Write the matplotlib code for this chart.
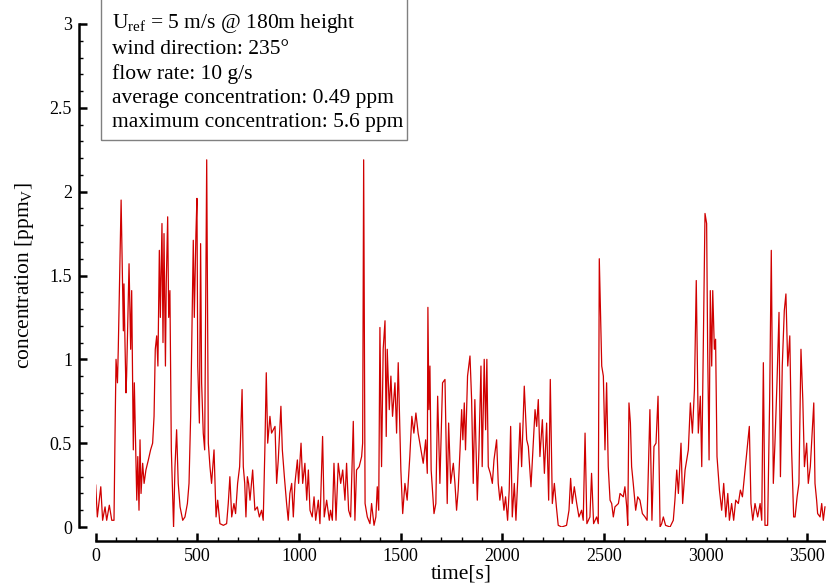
import numpy as np
import matplotlib
matplotlib.use('Agg')
import matplotlib.pyplot as plt
from matplotlib.patches import Rectangle
from matplotlib.ticker import MultipleLocator

plt.rcParams['font.family'] = ['Liberation Serif', 'DejaVu Serif']
plt.rcParams['mathtext.fontset'] = 'custom'
plt.rcParams['mathtext.rm'] = 'Liberation Serif'
plt.rcParams['mathtext.it'] = 'Liberation Serif:italic'

# time series (s, ppm)
time_s = [0, 8, 25, 34, 46, 54, 67, 79, 90, 95, 100, 107, 111, 120, 125, 131, 136, 139, 144,
          149, 152, 164, 172, 177, 185, 190, 195, 202, 207, 213, 218, 223, 231, 238, 247, 259,
          270, 280, 287, 293, 300, 306, 313, 318, 326, 331, 336, 343, 347, 354, 359, 365, 372,
          383, 390, 398, 406, 415, 428, 439, 451, 459, 467, 472, 480, 485, 493, 498, 502, 510,
          516, 521, 529, 536, 546, 554, 562, 570, 582, 592, 600, 611, 628, 644, 652, 660, 669,
          680, 688, 698, 708, 720, 726, 733, 739, 746, 752, 759, 772, 783, 795, 805, 816, 824,
          832, 839, 846, 857, 865, 882, 890, 898, 911, 918, 928, 939, 947, 955, 964, 972, 980,
          992, 998, 1010, 1018, 1029, 1038, 1046, 1054, 1065, 1074, 1082, 1095, 1103, 1116,
          1124, 1136, 1149, 1155, 1164, 1172, 1182, 1193, 1205, 1215, 1226, 1234, 1244, 1254,
          1267, 1275, 1283, 1296, 1308, 1313, 1318, 1325, 1336, 1349, 1357, 1369, 1378, 1385,
          1392, 1398, 1406, 1414, 1423, 1429, 1434, 1444, 1452, 1460, 1472, 1480, 1488, 1501,
          1510, 1521, 1532, 1545, 1555, 1565, 1575, 1586, 1600, 1611, 1623, 1631, 1634, 1639,
          1644, 1650, 1664, 1673, 1682, 1693, 1706, 1718, 1729, 1736, 1746, 1759,
          1767, 1775, 1783, 1792, 1800, 1806, 1813, 1819, 1829, 1841, 1849, 1857, 1865, 1877,
          1885, 1895, 1901, 1911, 1918, 1924, 1931, 1941, 1951, 1959, 1972, 1980, 1988, 1997,
          2008, 2016, 2026, 2034, 2041, 2049, 2059, 2067, 2075, 2087, 2095, 2108, 2120, 2128,
          2141, 2161, 2169, 2177, 2185, 2197, 2207, 2218, 2228, 2236, 2246, 2256, 2266, 2275,
          2292, 2316, 2328, 2336, 2344, 2354, 2366, 2377, 2390, 2398, 2407, 2416, 2431, 2439,
          2449, 2464, 2472, 2477, 2489, 2497, 2505, 2513, 2521, 2530, 2538, 2546, 2554, 2571,
          2579, 2595, 2603, 2612, 2617, 2623, 2630, 2636, 2644, 2656, 2666, 2677, 2689, 2702,
          2712, 2726, 2736, 2746, 2756, 2766, 2776, 2784, 2792, 2803, 2825, 2841, 2849, 2858,
          2866, 2879, 2887, 2899, 2915, 2925, 2935, 2945, 2954, 2964, 2974, 2981, 2989, 2997,
          3005, 3010, 3017, 3023, 3030, 3035, 3043, 3049, 3056, 3068, 3079, 3089, 3099, 3109,
          3117, 3128, 3138, 3148, 3161, 3171, 3181, 3194, 3215, 3223, 3232, 3243, 3256, 3268,
          3276, 3284, 3292, 3305, 3315, 3323, 3333, 3341, 3351, 3361, 3368, 3377, 3387, 3395,
          3404, 3414, 3423, 3433, 3440, 3450, 3459, 3469, 3478, 3486, 3497, 3505, 3515, 3532,
          3538, 3546, 3551, 3563, 3571, 3579, 3587]

conc_ppm = [0.25, 0.06, 0.24, 0.04, 0.12, 0.04, 0.13, 0.04, 0.04, 0.55, 1.00, 0.86, 1.06, 1.65,
            1.95, 1.51, 1.17, 1.45, 1.10, 0.80, 0.90, 1.57, 1.06, 1.41, 0.46, 0.86, 0.56, 0.16,
            0.42, 0.10, 0.52, 0.20, 0.38, 0.26, 0.34, 0.40, 0.46, 0.50, 0.66, 1.06, 1.14, 0.96,
            1.65, 1.25, 1.81, 1.10, 1.75, 0.96, 1.45, 1.85, 1.25, 1.41, 0.46, 0.00, 0.36, 0.58,
            0.26, 0.12, 0.04, 0.06, 0.14, 0.26, 0.66, 1.06, 1.71, 1.25, 1.75, 1.96, 0.96, 0.62,
            1.69, 0.86, 0.56, 0.46, 2.19, 0.50, 0.36, 0.26, 0.46, 0.06, 0.16, 0.02, 0.01, 0.02,
            0.14, 0.30, 0.06, 0.14, 0.08, 0.26, 0.36, 0.82, 0.36, 0.26, 0.06, 0.30, 0.26, 0.16,
            0.34, 0.10, 0.12, 0.06, 0.10, 0.04, 0.46, 0.92, 0.50, 0.66, 0.56, 0.60, 0.26, 0.40,
            0.72, 0.46, 0.30, 0.14, 0.04, 0.20, 0.26, 0.06, 0.26, 0.40, 0.26, 0.50, 0.26, 0.38,
            0.16, 0.34, 0.10, 0.06, 0.18, 0.04, 0.16, 0.02, 0.54, 0.06, 0.16, 0.04, 0.10, 0.04,
            0.38, 0.04, 0.38, 0.26, 0.34, 0.16, 0.38, 0.10, 0.06, 0.63, 0.04, 0.34, 0.36, 0.42,
            0.50, 2.19, 0.14, 0.06, 0.02, 0.14, 0.01, 0.06, 0.24, 0.10, 1.19, 0.36, 1.06, 1.23,
            0.54, 1.06, 0.70, 0.90, 0.66, 0.86, 0.56, 0.98, 0.34, 0.08, 0.26, 0.16, 0.42, 0.66,
            0.56, 0.68, 0.56, 0.46, 0.38, 0.52, 0.32, 1.31, 0.70, 0.96, 0.34, 0.08, 0.14, 0.78,
            0.26, 0.86, 0.88, 0.14, 0.62, 0.26, 0.38,
            0.26, 0.10, 0.22, 0.46, 0.70, 0.52, 0.74, 0.46, 0.90, 1.02, 0.76, 0.26, 0.76, 0.16,
            0.46, 0.96, 0.36, 1.00, 0.58, 1.00, 0.36, 0.32, 0.26, 0.40, 0.52, 0.26, 0.16, 0.24,
            0.10, 0.18, 0.04, 0.22, 0.60, 0.06, 0.26, 0.04, 0.26, 0.62, 0.36, 0.84, 0.52, 0.48,
            0.24, 0.70, 0.60, 0.76, 0.42, 0.64, 0.32, 0.62, 0.16, 0.88, 0.14, 0.26, 0.12, 0.01,
            0.00, 0.01, 0.10, 0.29, 0.14, 0.24, 0.14, 0.06, 0.10, 0.04, 0.56, 0.02, 0.06, 0.32,
            0.02, 0.06, 0.02, 1.60, 0.96, 0.90, 0.46, 0.86, 0.36, 0.16, 0.14, 0.06, 0.12, 0.14,
            0.20, 0.18, 0.24, 0.12, 0.01, 0.74, 0.62, 0.36, 0.26, 0.10, 0.18, 0.16, 0.08, 0.06,
            0.04, 0.70, 0.04, 0.48, 0.50, 0.78, 0.00, 0.02, 0.06, 0.01, 0.00, 0.04, 0.16, 0.34,
            0.20, 0.50, 0.14, 0.34, 0.46, 0.74, 0.56, 0.82, 1.47, 0.56, 0.78, 0.36, 1.10, 1.87,
            1.81, 1.06, 0.40, 1.41, 0.96, 1.41, 1.06, 1.12, 0.42, 0.22, 0.10, 0.26, 0.06, 0.20,
            0.04, 0.14, 0.04, 0.16, 0.14, 0.22, 0.18, 0.34, 0.60, 0.14, 0.04, 0.14, 0.06, 0.14,
            0.04, 0.98, 0.01, 0.01, 0.76, 1.65, 0.26, 0.50, 0.86, 1.28, 0.30, 0.96, 1.29, 1.39,
            0.96, 1.14, 0.46, 0.06, 0.06, 0.18, 0.26, 1.06, 0.76, 0.36, 0.50, 0.26, 0.36, 0.74,
            0.26, 0.16, 0.08, 0.06, 0.14, 0.04, 0.12]

info_lines = ['U$_\\mathrm{ref}$ = 5 m/s @ 180m height',
              'wind direction: 235\u00b0',
              'flow rate: 10 g/s',
              'average concentration: 0.49 ppm',
              'maximum concentration: 5.6 ppm']

W, H = 826, 585
fig = plt.figure(figsize=(W / 100, H / 100), dpi=100)
ax = fig.add_axes([95.7 / W, (H - 527) / H, 731.9 / W, 503 / H])

ax.plot(time_s, conc_ppm, color='#d00000', lw=0.9)

ax.set_xlim(0, 3600)
ax.set_ylim(0, 3)
ax.xaxis.set_major_locator(MultipleLocator(500))
ax.xaxis.set_minor_locator(MultipleLocator(100))
ax.yaxis.set_major_locator(MultipleLocator(0.5))
ax.yaxis.set_minor_locator(MultipleLocator(0.1))
ax.yaxis.set_major_formatter(plt.FuncFormatter(lambda v, p: f'{v:g}'))

for s in ['top', 'right']:
    ax.spines[s].set_visible(False)
ax.spines['left'].set_position(('outward', 12))
ax.spines['bottom'].set_position(('outward', 10))
ax.spines['left'].set_linewidth(1.8)
ax.spines['bottom'].set_linewidth(1.8)
ax.spines['left'].set_bounds(0, 3)
ax.spines['bottom'].set_bounds(0, 3600)

ax.tick_params(which='major', direction='in', length=5.5, width=1.8, labelsize=13, pad=5)
ax.tick_params(which='minor', direction='in', length=3, width=1.0)

ax.set_xlabel('time[s]', fontsize=15.5, labelpad=0)
ax.set_ylabel('concentration [ppm$_\\mathrm{V}$]', fontsize=15.5, labelpad=10)

# info box, top cut off by the figure edge
fig.patches.append(Rectangle((101 / W, (H - 140) / H), 306 / W, 0.3,
                             transform=fig.transFigure, fill=False,
                             edgecolor='#808080', lw=1.0))
fig.text(112 / W, (H - 132) / H, '\n'.join(info_lines), ha='left', va='bottom',
         fontsize=15.5, linespacing=1.36)

fig.savefig('out.png', dpi=100)
